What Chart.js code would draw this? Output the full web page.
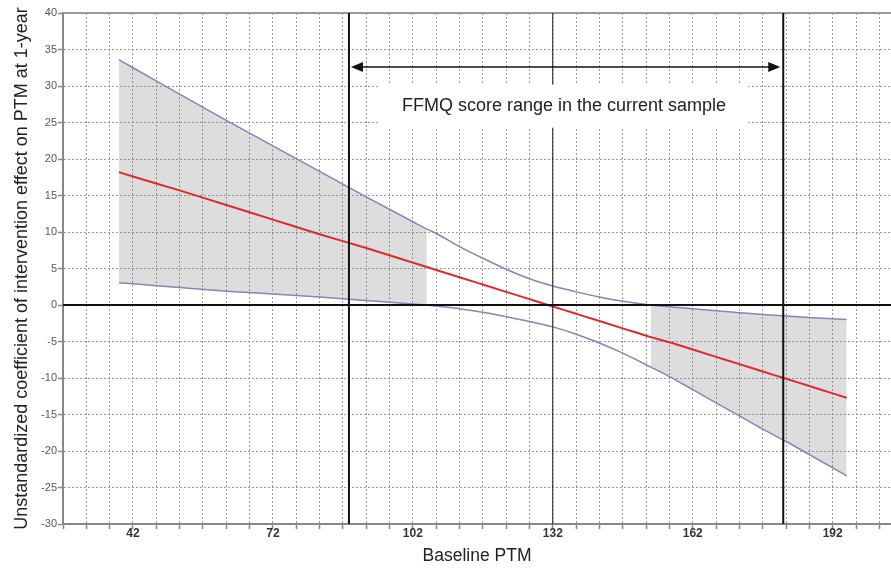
<!DOCTYPE html>
<html>
<head>
<meta charset="utf-8">
<title>Johnson-Neyman plot</title>
<script src="https://cdn.jsdelivr.net/npm/chart.js@4.4.1/dist/chart.umd.min.js"></script>
<style>
  html, body { margin: 0; padding: 0; background: #fff; }
  #wrap { width: 891px; height: 575px; position: relative; }
</style>
</head>
<body>
<div id="wrap"><canvas id="chart"></canvas></div>
<script>
const ptm     = [39, 42, 52, 62, 72, 82, 92, 102, 105, 107, 112, 117, 122, 127, 132, 137, 142, 147, 153, 157, 162, 167, 172, 177, 182, 187, 192, 195];
const effect  = [18.2, 17.6, 15.7, 13.7, 11.7, 9.7, 7.8, 5.8, 5.2, 4.8, 3.8, 2.8, 1.8, 0.8, -0.2, -1.2, -2.2, -3.2, -4.4, -5.1, -6.1, -7.1, -8.1, -9.1, -10.1, -11.1, -12.1, -12.7];
const upperCI = [33.6, 32.5, 28.9, 25.3, 21.8, 18.3, 14.8, 11.4, 10.4, 9.8, 8.0, 6.4, 4.9, 3.6, 2.6, 1.8, 1.1, 0.5, 0.0, -0.25, -0.5, -0.8, -1.05, -1.3, -1.5, -1.7, -1.9, -2.0];
const lowerCI = [3.05, 2.9, 2.4, 1.9, 1.5, 1.1, 0.6, 0.15, 0.0, -0.15, -0.5, -1.0, -1.6, -2.25, -3.0, -4.0, -5.2, -6.6, -8.5, -9.8, -11.6, -13.4, -15.2, -17.0, -18.7, -20.5, -22.3, -23.4];

const xTickLabels = [42, 72, 102, 132, 162, 192];

// regions of significance (Johnson-Neyman points)
const jnLow = 105;
const jnHigh = 153;
// observed FFMQ score range
const sampleMin = 88.3;
const sampleMax = 181.4;
const zeroEffectAt = 132;
const rangeLabel = 'FFMQ score range in the current sample';

const FONT = "Arial, 'Liberation Sans', sans-serif";

function points(ys, keep) {
    return ptm.map((x, i) => ({x, y: ys[i]})).filter(p => !keep || keep(p.x));
}

const shade = 'rgba(120,120,120,0.25)';
const band = {borderWidth: 0, borderColor: 'transparent', pointRadius: 0, backgroundColor: shade, order: 10, cubicInterpolationMode: 'monotone'};
const curve = {pointRadius: 0, fill: false, cubicInterpolationMode: 'monotone'};

const overlay = {
    id: 'overlay',
    afterDatasetsDraw(chart) {
        const {ctx, chartArea: a, scales: {x, y}} = chart;
        const line = (x1, y1, x2, y2) => { ctx.beginPath(); ctx.moveTo(x1, y1); ctx.lineTo(x2, y2); ctx.stroke(); };
        ctx.save();
        // frame top
        ctx.strokeStyle = '#999';
        ctx.lineWidth = 2;
        line(a.left, a.top, a.right, a.top);
        // zero line
        ctx.strokeStyle = '#111';
        const y0 = y.getPixelForValue(0);
        line(a.left, y0, a.right, y0);
        // where the effect crosses zero
        ctx.lineWidth = 1;
        const xz = x.getPixelForValue(zeroEffectAt);
        line(xz, a.top, xz, a.bottom);
        // sample range
        ctx.lineWidth = 2;
        const xa = x.getPixelForValue(sampleMin), xb = x.getPixelForValue(sampleMax);
        line(xa, a.top, xa, a.bottom);
        line(xb, a.top, xb, a.bottom);

        // label box
        ctx.font = '18px ' + FONT;
        const tw = ctx.measureText(rangeLabel).width;
        const cx = x.getPixelForValue(134.4), cy = y.getPixelForValue(27.3);
        ctx.fillStyle = '#fff';
        ctx.fillRect(cx - tw / 2 - 22, cy - 21, tw + 44, 43);
        ctx.fillStyle = '#222';
        ctx.textAlign = 'center';
        ctx.textBaseline = 'middle';
        ctx.fillText(rangeLabel, cx, cy);

        // double arrow
        const ya = y.getPixelForValue(32.6);
        const l = xa + 2, r = xb - 3;
        ctx.strokeStyle = '#111';
        ctx.lineWidth = 1.6;
        line(l + 8, ya, r - 8, ya);
        ctx.fillStyle = '#111';
        ctx.beginPath();
        ctx.moveTo(l, ya); ctx.lineTo(l + 12, ya - 5); ctx.lineTo(l + 12, ya + 5); ctx.closePath();
        ctx.fill();
        ctx.beginPath();
        ctx.moveTo(r, ya); ctx.lineTo(r - 12, ya - 5); ctx.lineTo(r - 12, ya + 5); ctx.closePath();
        ctx.fill();
        ctx.restore();
    }
};

new Chart(document.getElementById('chart'), {
    type: 'line',
    data: {
        datasets: [
            {...band, data: points(upperCI, v => v <= jnLow), fill: '+1'},
            {...band, data: points(lowerCI, v => v <= jnLow), fill: false},
            {...band, data: points(upperCI, v => v >= jnHigh), fill: '+1'},
            {...band, data: points(lowerCI, v => v >= jnHigh), fill: false},
            {...curve, label: 'Upper CI', data: points(upperCI), borderColor: '#8585b8', borderWidth: 1.5},
            {...curve, label: 'Lower CI', data: points(lowerCI), borderColor: '#8585b8', borderWidth: 1.5},
            {...curve, label: 'Effect', data: points(effect), borderColor: '#dd2a2a', borderWidth: 2},
        ]
    },
    options: {
        responsive: true,
        maintainAspectRatio: false,
        animation: false,
        layout: {padding: {top: 13, right: 0, left: 0, bottom: 0}},
        plugins: {legend: {display: false}, tooltip: {enabled: false}},
        scales: {
            x: {
                type: 'linear',
                min: 27,
                max: 204.5,
                afterBuildTicks: scale => {
                    const t = [];
                    for (let v = 27; v <= 204; v += 5) t.push({value: v});
                    scale.ticks = t;
                },
                afterFit: scale => { scale.height = 51; },
                ticks: {
                    autoSkip: false, maxRotation: 0, padding: -3,
                    color: '#333', font: {family: FONT, size: 12, weight: 'bold'},
                    callback: v => xTickLabels.includes(v) ? String(v) : ''
                },
                grid: {color: '#999', lineWidth: 1, tickLength: 5, tickColor: '#888', tickWidth: 1.5},
                border: {color: '#888', width: 2, dash: [2, 2]},
                title: {display: true, text: 'Baseline PTM', color: '#222', font: {family: FONT, size: 17.5}, padding: {top: 0, bottom: 8}}
            },
            y: {
                min: -30,
                max: 40,
                afterFit: scale => { scale.width = 63; },
                ticks: {stepSize: 5, padding: 1, color: '#555', font: {family: FONT, size: 11}},
                grid: {color: '#999', lineWidth: 1, tickLength: 5, tickColor: '#888', tickWidth: 1.5},
                border: {color: '#888', width: 2, dash: [2, 2]},
                title: {display: true, text: 'Unstandardized coefficient of intervention effect on PTM at 1-year', color: '#222', font: {family: FONT, size: 18}, padding: {top: 11, bottom: 0}}
            }
        }
    },
    plugins: [overlay]
});
</script>
</body>
</html>
